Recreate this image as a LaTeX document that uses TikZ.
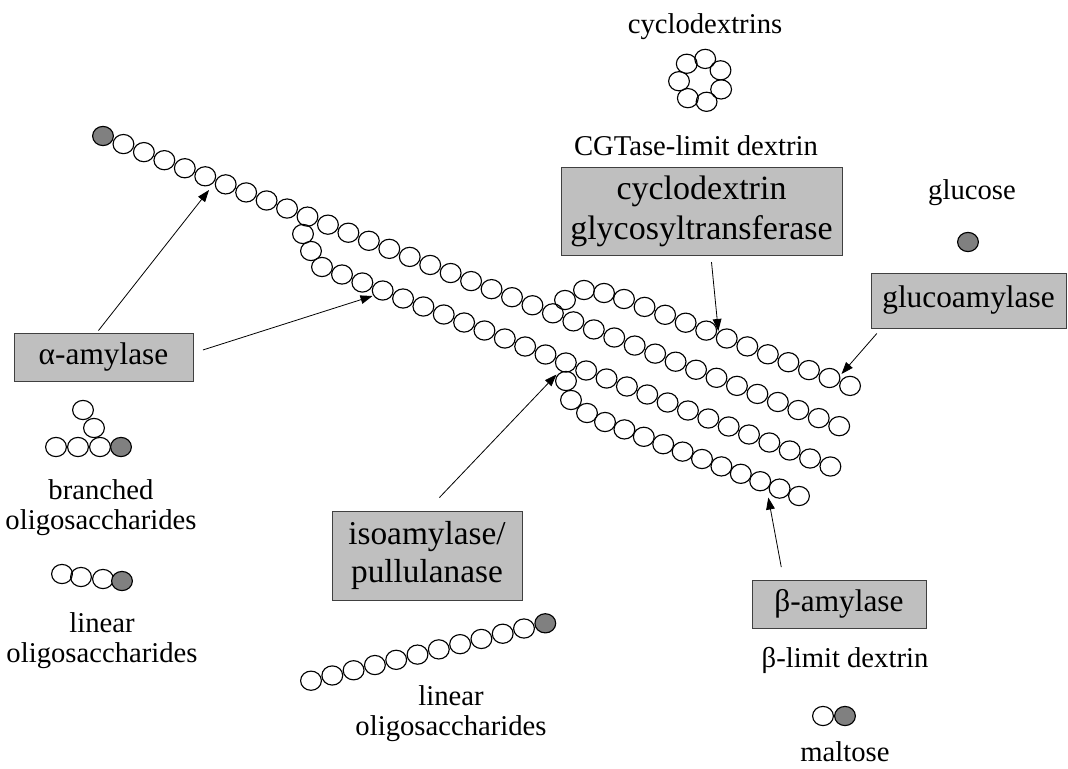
\documentclass[tikz,border=0pt]{standalone}
\usepackage{fontspec}
\setmainfont{Liberation Serif}
\usetikzlibrary{arrows.meta,shapes.geometric}

\begin{document}
\begin{tikzpicture}[x=0.75pt,y=-0.75pt,
  glc/.style={draw,ellipse,inner sep=0pt,minimum width=15.6pt,minimum height=14.4pt,line width=0.85pt},
  endglc/.style={glc,fill=black!50},
  enzyme/.style={draw=black!75,fill=black!25,line width=0.6pt,inner sep=0pt,align=center,font=\fontsize{23.5}{27}\selectfont},
  lbl/.style={align=center,font=\fontsize{21.5}{22.5}\selectfont},
  arr/.style={-{Triangle[length=9pt,width=6.5pt]},line width=0.6pt}]
\useasboundingbox (0,0) rectangle (1068,768);

% starch molecule, main chain
\node[endglc] (m0) at (103,136) {};
\foreach \i in {1,...,36}
  \node[glc] (m\i) at ({103+20.45*\i},{136+8.06*\i}) {};
% branch at m10
\node[glc] (b1) at (303,234) {};
\node[glc] (b2) at (311,251) {};
\node[glc] (b3) at (322,267) {};
\foreach \j in {0,...,24}
  \node[glc] (r\j) at ({342+20.35*\j},{274.5+8.0*\j}) {};
% branch at r11
\node[glc] (c1) at (566,381) {};
\node[glc] (c2) at (571,400) {};
\node[glc] (c3) at (587,413) {};
\foreach \k in {0,...,10}
  \node[glc] (s\k) at ({605+19.4*\k},{422+7.4*\k}) {};
% branch at m22
\node[glc] (t1) at (565,300) {};
\node[glc] (t2) at (584,290) {};
\node[glc] (t3) at (604,293) {};
\foreach \n in {0,...,11}
  \node[glc] (u\n) at ({624+20.55*\n},{299+7.9*\n}) {};

% products
\foreach \a in {0,...,6}
  \node[glc] (cd\a) at ({701+22*cos(79+51.43*\a)},{80.5-22*sin(79+51.43*\a)}) {};
\node[endglc] (glucose) at (968,242) {};

\node[glc] (bo1) at (56,447) {};
\node[glc] (bo2) at (78,447) {};
\node[glc] (bo3) at (100,447) {};
\node[endglc] (bo4) at (121,447) {};
\node[glc] (bo5) at (94,428) {};
\node[glc] (bo6) at (83,410) {};

\node[glc] (lo1) at (62,574) {};
\node[glc] (lo2) at (81,577) {};
\node[glc] (lo3) at (103,579) {};
\node[endglc] (lo4) at (122,581) {};

\foreach \i in {0,...,10}
  \node[glc] (lc\i) at ({311+21.3*\i},{680.7-5.22*\i}) {};
\node[endglc] (lc11) at (545.3,623.3) {};

\node[glc] (mal1) at (823,716) {};
\node[endglc] (mal2) at (845,716) {};

% enzymes
\node[enzyme,minimum width=134.25pt,minimum height=36pt] (alpha) at (103.5,357) {α-amylase};
\node[enzyme,minimum width=210.75pt,minimum height=66pt,font=\fontsize{25.5}{30}\selectfont] (cgt) at (701.5,211) {cyclodextrin\\glycosyltransferase};
\node[enzyme,minimum width=146.25pt,minimum height=41.25pt] (gluco) at (968.5,300.5) {glucoamylase};
\node[enzyme,minimum width=142.5pt,minimum height=66.75pt,font=\fontsize{25}{28}\selectfont] (iso) at (427,555.5) {isoamylase/\\pullulanase};
\node[enzyme,minimum width=130.5pt,minimum height=36pt] (beta) at (839,604) {β-amylase};

% labels
\node[lbl] (cdtxt) at (705,27) {cyclodextrins};
\node[lbl] (cgtxt) at (696,146) {CGTase-limit dextrin};
\node[lbl] (gltxt) at (972,193) {glucose};
\node[lbl] (botxt) at (101,508) {branched\\oligosaccharides};
\node[lbl] (lotxt) at (102,641) {linear\\oligosaccharides};
\node[lbl] (lctxt) at (451,714) {linear\\oligosaccharides};
\node[lbl] (bltxt) at (845,660) {β-limit dextrin};
\node[lbl] (maltxt) at (845,752) {maltose};

% points of attack
\coordinate (hitA) at (209,190);
\coordinate (hitB) at (372.5,296);
\coordinate (hitC) at (556.5,374.5);
\coordinate (hitD) at (718.3,331);
\coordinate (hitE) at (841.5,374);
\coordinate (hitF) at (768.3,497.5);

\draw[arr,shorten <=2pt] ([xshift=-5pt]alpha.north) -- (hitA);
\draw[arr,shorten <=7.5pt] ([yshift=3pt]alpha.east) -- (hitB);
\draw[arr,shorten <=13.5pt] (iso.north) -- (hitC);
\draw[arr,shorten <=5pt] ([xshift=7pt]cgt.south) -- (hitD);
\draw[arr,shorten <=5pt] ([xshift=8pt]gluco.south west) -- (hitE);
\draw[arr,shorten <=9.5pt] ([xshift=24pt]beta.north west) -- (hitF);
\end{tikzpicture}
\end{document}
